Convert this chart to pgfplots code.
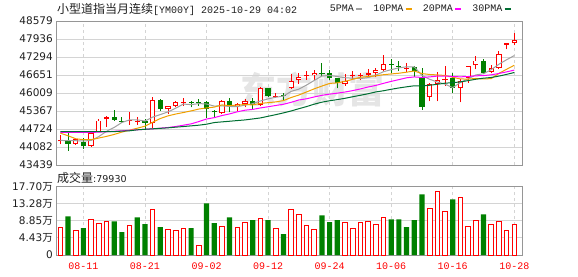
\documentclass[border=0pt]{standalone}
\usepackage{pgfplots}
\pgfplotsset{compat=1.18}
\usepackage{pgfplotstable}
\usepackage{fontspec}
\setmainfont{DejaVu Sans}
\newfontfamily\cjk{Noto Sans CJK SC}
\newfontfamily\mono{Liberation Mono}
\definecolor{cred}{RGB}{255,0,0}
\definecolor{cgreen}{RGB}{0,128,0}
\definecolor{ma5c}{RGB}{160,160,160}
\definecolor{ma10c}{RGB}{240,160,0}
\definecolor{ma20c}{RGB}{255,0,255}
\definecolor{ma30c}{RGB}{0,110,50}
\definecolor{axgray}{RGB}{150,150,150}
\definecolor{gridgray}{RGB}{212,212,212}

% rising candles (close >= open)
\pgfplotstableread{
i O H L C
0 44283 44495 44177 44342
2 44201 44401 44154 44354
4 44106 44612 44083 44577
5 44612 45071 44600 45025
6 45071 45189 44813 45142
9 45013 45342 44883 45048
10 44989 45142 44871 45025
12 44942 45872 44766 45754
14 45436 45554 45260 45531
15 45554 45707 45495 45684
16 45637 45825 45554 45672
21 45295 45754 45260 45707
23 45531 45637 45377 45613
24 45613 45801 45495 45707
26 45589 46213 45554 46178
28 45872 46013 45848 45907
30 46201 46672 46143 46437
31 46472 46731 46343 46578
32 46602 46790 46484 46637
33 46637 46813 46460 46731
37 46343 46696 46260 46437
38 46602 46790 46496 46637
39 46602 46731 46460 46637
40 46637 46849 46555 46708
41 46719 46884 46578 46813
42 46837 47355 46790 47049
45 46872 47084 46766 46908
48 45884 46378 45707 46319
49 46343 46766 45707 46472
50 46460 46967 46260 46519
52 46178 46496 45672 46437
53 46555 46990 46378 46967
54 47002 47343 46849 47167
56 46766 47025 46708 46908
57 46908 47520 46849 47402
58 47732 47802 47567 47779
59 47790 48144 47708 47908
}\candup

% falling candles (close < open)
\pgfplotstableread{
i O H L C
1 44342 44648 43942 44201
3 44271 44412 44012 44106
7 45142 45401 45025 45048
8 45025 45142 44942 44989
11 45025 45071 44671 44930
13 45754 45790 45377 45436
17 45672 45731 45495 45637
18 45684 45778 45554 45637
19 45684 45707 45118 45448
20 45377 45413 45142 45319
22 45707 45848 45319 45531
25 45707 45848 45436 45589
27 46178 46201 45872 45907
29 45942 46013 45731 45907
34 46731 47084 46613 46696
35 46708 46813 46460 46531
36 46531 46555 46178 46378
43 47049 47237 46731 47002
44 46990 47167 46790 46955
46 46931 46967 46590 46790
47 46578 46908 45413 45519
51 46531 46731 46025 46178
55 47167 47237 46696 46731
}\canddown

\pgfplotstableread{
i m5 m10 m20 m30
0 44318 44577 44601 44630
1 44306 44483 44601 44630
2 44306 44377 44601 44630
3 44295 44342 44601 44630
4 44316 44342 44601 44630
5 44453 44401 44613 44630
6 44641 44460 44624 44630
7 44780 44530 44642 44630
8 44956 44613 44660 44648
9 45050 44683 44678 44660
10 45050 44752 44695 44695
11 45008 44825 44713 44713
12 45149 44965 44731 44731
13 45239 45098 44754 44748
14 45335 45193 44777 44766
15 45467 45259 44813 44790
16 45615 45312 44860 44813
17 45592 45371 44907 44836
18 45632 45436 44989 44860
19 45616 45476 45080 44895
20 45543 45505 45129 44954
21 45550 45583 45204 44978
22 45528 45560 45263 45001
23 45524 45578 45338 45025
24 45575 45596 45395 45048
25 45629 45586 45423 45083
26 45724 45637 45475 45119
27 45799 45664 45518 45178
28 45858 45691 45564 45236
29 45898 45737 45607 45299
30 46067 45848 45677 45368
31 46147 45936 45760 45448
32 46293 46046 45803 45524
33 46458 46158 45868 45611
34 46616 46257 45927 45682
35 46635 46351 45969 45732
36 46595 46371 46004 45773
37 46555 46424 46044 45820
38 46536 46497 46094 45875
39 46524 46570 46154 45928
40 46559 46597 46223 45983
41 46646 46621 46279 46047
42 46769 46662 46354 46089
43 46842 46689 46424 46142
44 46905 46715 46486 46189
45 46945 46752 46552 46230
46 46941 46794 46583 46267
47 46635 46702 46563 46263
48 46498 46670 46584 46286
49 46402 46654 46612 46320
50 46324 46635 46616 46360
51 46201 46571 46596 46376
52 46385 46510 46586 46406
53 46515 46507 46598 46451
54 46654 46528 46622 46500
55 46696 46510 46631 46538
56 46842 46522 46658 46562
57 47035 46710 46706 46612
58 47197 46856 46763 46674
59 47346 47000 46827 46741
}\ma

\pgfplotstableread{
i v
0 7.10
2 6.41
4 9.15
5 8.12
6 8.64
9 7.61
12 11.71
14 6.67
15 6.41
16 6.84
18 2.48
21 7.35
23 7.10
24 8.38
26 9.41
28 6.84
30 11.71
31 10.43
32 7.61
33 6.58
37 8.38
38 6.84
39 8.38
40 8.64
41 7.87
42 9.66
48 11.97
49 16.33
50 11.29
52 14.79
53 7.35
54 8.89
56 7.87
57 8.64
58 6.41
59 7.99
}\volup

\pgfplotstableread{
i v
1 10.00
3 6.93
7 8.72
8 5.90
10 9.75
11 7.95
13 7.18
17 6.93
19 13.34
20 8.21
22 9.75
25 8.98
27 8.98
29 5.39
34 10.26
35 8.47
36 8.98
43 9.23
44 9.23
45 7.18
46 8.98
47 15.65
51 14.37
55 10.52
}\voldown

\pgfplotsset{
  kbase/.style={
    scale only axis, width=466pt, anchor=south west,
    xmin=-0.56, xmax=60,
    xtick={3,11,19,27,35,43,51,59},
    major tick length=0pt,
    xmajorgrids, ymajorgrids,
    x grid style={draw=gridgray, dash pattern=on 3pt off 3pt, line width=0.8pt},
    y grid style={draw=gridgray, line width=0.8pt},
    axis line style={draw=axgray, line width=0.8pt},
    scaled y ticks=false,
    yticklabel style={font=\fontsize{10.5}{12}\selectfont, inner sep=0pt, xshift=-3pt, text=black!88},
  },
  ebar/.style 2 args={forget plot, draw=none, mark=none,
    error bars/.cd, y dir=plus, y explicit, error mark=none,
    error bar style={draw=#1, solid, line cap=butt, line width=#2}},
  ebarinner/.style={forget plot, draw=none, mark=none,
    error bars/.cd, y dir=plus, y explicit, error mark=none,
    error bar style={draw=white, solid, line cap=butt, line width=3.4pt,
      shorten <=0.9pt, shorten >=0.9pt}},
}

\begin{document}
\begin{tikzpicture}
\useasboundingbox (0pt,0pt) rectangle (578pt,276pt);
\node[text=black!10, font=\cjk\bfseries\fontsize{36}{36}\selectfont] at (312pt,186pt) {东方财富};
\node[anchor=west, inner sep=0pt, text=black!88] at (57pt,267pt)
  {{\cjk\fontsize{12}{12}\selectfont 小型道指当月连续}{\mono\fontsize{10}{10}\selectfont[YM00Y] 2025-10-29 04:02}};
\node[anchor=west, inner sep=0pt, text=black!88] at (57pt,98.5pt)
  {{\cjk\fontsize{12}{12}\selectfont 成交量}{\fontsize{9.5}{10}\selectfont:79930}};

\begin{axis}[kbase, at={(56pt,111pt)}, height=144pt,
  ymin=43439, ymax=48579,
  xticklabels={},
  ytick={43439,44082,44724,45367,46009,46651,47294,47936,48579},
  yticklabels={43439,44082,44724,45367,46009,46651,47294,47936,48579},
  legend columns=4, legend plot pos=right,
  legend image code/.code={\draw[#1, line width=2.5pt] (0pt,0pt) -- (6pt,0pt);},
  legend style={at={(1,1)}, anchor=east, xshift=-10pt, yshift=12pt, draw=none, fill=none,
    inner sep=0pt, font=\mono\fontsize{10}{10}\selectfont,
    /tikz/every even column/.append style={column sep=9pt},
    nodes={inner sep=1pt, text=black!88}},
]
% wicks
\addplot[ebar={cred}{0.9pt}] table[x=i, y=L, y error plus expr=\thisrow{H}-\thisrow{L}]{\candup};
\addplot[ebar={cgreen}{0.9pt}] table[x=i, y=L, y error plus expr=\thisrow{H}-\thisrow{L}]{\canddown};
% bodies
\addplot[ebar={cred}{5.2pt}] table[x=i, y=O, y error plus expr=\thisrow{C}-\thisrow{O}]{\candup};
\addplot[restrict expr to domain={\thisrow{C}-\thisrow{O}}{80:100000}, ebarinner]
  table[x=i, y=O, y error plus expr=\thisrow{C}-\thisrow{O}]{\candup};
\addplot[ebar={cgreen}{5.2pt}] table[x=i, y=C, y error plus expr=\thisrow{O}-\thisrow{C}]{\canddown};
% moving averages
\addplot[ma5c, line width=1pt, mark=none] table[x=i, y=m5]{\ma};
\addlegendentry{5PMA}
\addplot[ma10c, line width=1pt, mark=none] table[x=i, y=m10]{\ma};
\addlegendentry{10PMA}
\addplot[ma20c, line width=1pt, mark=none] table[x=i, y=m20]{\ma};
\addlegendentry{20PMA}
\addplot[ma30c, line width=1pt, mark=none] table[x=i, y=m30]{\ma};
\addlegendentry{30PMA}
\end{axis}

\begin{axis}[kbase, at={(56pt,21pt)}, height=68.5pt,
  ymin=0, ymax=17.70,
  xticklabels={08-11,08-21,09-02,09-12,09-24,10-06,10-16,10-28},
  xticklabel style={font=\mono\fontsize{10}{10}\selectfont, text=cred, inner sep=0pt, yshift=-7.5pt},
  ytick={0,4.43,8.85,13.28,17.70},
  yticklabels={0,{4.43{\cjk 万}},{8.85{\cjk 万}},{13.28{\cjk 万}},{17.70{\cjk 万}}},
]
\addplot[ybar, bar width=4.6pt, bar shift=0pt, draw=cred, fill=white, line width=0.9pt] table[x=i, y=v]{\volup};
\addplot[ybar, bar width=5.2pt, bar shift=0pt, draw=none, fill=cgreen] table[x=i, y=v]{\voldown};
\end{axis}
\end{tikzpicture}
\end{document}
